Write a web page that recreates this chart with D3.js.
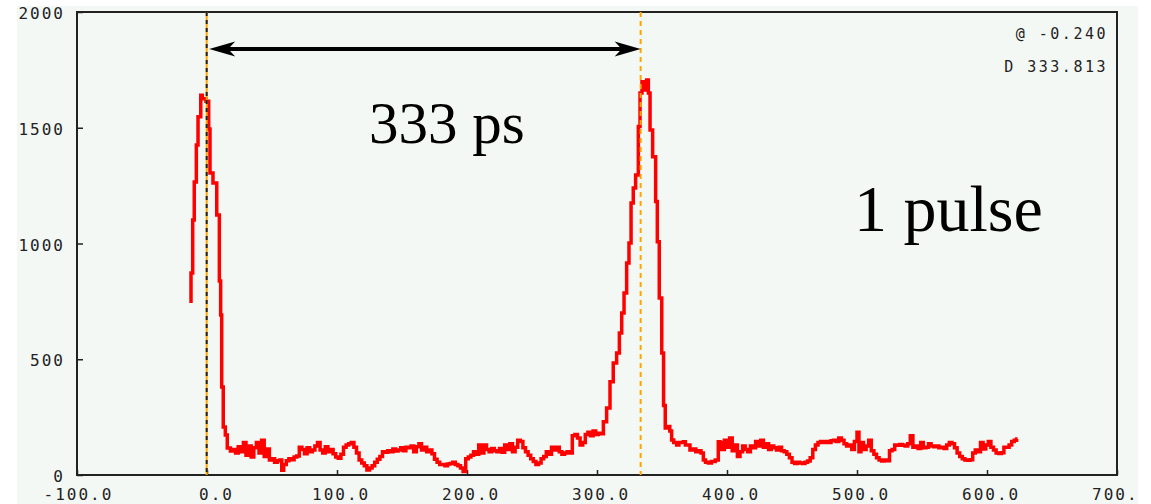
<!DOCTYPE html>
<html>
<head>
<meta charset="utf-8">
<script src="https://d3js.org/d3.v7.min.js"></script>
<style>
  body { margin: 0; background: #fff; }
</style>
</head>
<body>
<div id="my_dataviz"></div>
<script>
// trace: time (ps) and counts
var times = [
  -12.3, -12.3, -11, -9.8, -8.2, -6.9, -4.8, -3.6, -0.8, 1.3, 2.3, 4.6, 7.5, 9.5, 10.5, 11.3, 12.5, 14.1, 15.6,
  18, 20, 22, 24, 26, 28, 30, 32, 34, 36, 38, 40, 42, 44, 46, 48, 50, 52, 54, 56, 57.5, 59,
  61, 63, 65, 67, 69, 71, 73, 75, 77, 79, 81, 83, 85, 87, 89, 91, 93, 95, 97, 99,
  101, 103, 105, 107, 109, 111, 113, 115, 117, 119, 121, 123, 125, 127, 129, 131, 133, 135, 137, 139,
  141, 143, 145, 147, 149, 151, 153, 155, 157, 159, 161, 163, 165, 167, 169, 171, 173, 175, 177, 179,
  181, 183, 185, 187, 189, 191, 193, 195, 197, 199, 201, 203, 205, 207, 209, 211, 213, 215, 217, 219,
  221, 223, 225, 227, 229, 231, 233, 235, 237, 239, 241, 243, 245, 247, 249, 251, 253, 255, 257, 259,
  261, 263, 265, 267, 269, 271, 273, 275, 277, 279, 281, 283, 285, 287, 289, 291, 293, 295, 297, 299,
  301, 303, 304.9, 307.4, 310, 312.5, 315.1, 317.2, 319, 320.8, 322.8, 324.6, 326.2, 327.9, 329.7,
  331.8, 333.1, 334.6, 336.4, 338.2, 339.5, 340.8, 342.8, 345.1, 346.4, 347.9, 349.8, 351.2, 352.5,
  354, 356, 357.4, 359, 361.3, 363, 366.4, 368, 371.5, 374, 376, 378, 380, 381.8, 383.5, 385.6, 388, 391, 393.3,
  394.6, 396, 398, 400, 402, 404, 406, 408, 410, 412, 414, 416, 418, 420, 422, 424, 426, 428, 430,
  432, 434, 436, 438, 440, 442, 444, 446, 448, 450, 452, 454, 456, 458, 460, 462, 464, 466, 468, 470,
  472, 474, 476, 478, 480, 482, 484, 486, 488, 490, 492, 494, 496, 498, 500, 501.5, 503, 505, 507, 509,
  511, 513, 515, 517, 519, 521, 523, 525, 527, 529, 531, 533, 535, 537, 539, 541, 543, 545, 547, 549,
  551, 553, 555, 557, 559, 561, 563, 565, 567, 569, 571, 573, 575, 577, 579, 581, 583, 585, 587, 589,
  591, 593, 595, 597, 599, 601, 603, 605, 607, 609, 611, 613, 615, 617, 619, 621, 622.8
];
var counts = [
  743, 873, 1102, 1266, 1426, 1547, 1640, 1625, 1615, 1495, 1305, 1261, 1123, 838, 691, 380, 207, 173, 117,
  104, 110, 95, 122, 100, 140, 85, 125, 78, 118, 140, 95, 150, 80, 112, 65, 70, 55, 62, 65, 20, 45,
  62, 70, 66, 78, 82, 120, 110, 92, 118, 100, 108, 125, 140, 108, 95, 122, 100, 110, 92, 78,
  72, 90, 120, 130, 135, 140, 120, 95, 65, 52, 40, 22, 30, 40, 55, 68, 80, 100, 98, 105,
  100, 112, 104, 108, 118, 105, 120, 118, 125, 100, 122, 135, 108, 120, 100, 108, 92, 68, 55, 45,
  45, 40, 48, 50, 55, 45, 40, 30, 15, 70, 78, 85, 100, 90, 130, 95, 130, 110, 100, 115,
  105, 100, 115, 98, 130, 110, 135, 100, 120, 150, 145, 118, 100, 85, 70, 58, 45, 52, 70, 80,
  100, 90, 120, 108, 120, 100, 90, 95, 100, 95, 170, 175, 160, 130, 140, 175, 185, 170, 190, 175,
  180, 178, 230, 289, 403, 484, 527, 613, 700, 786, 916, 1002, 1175, 1240, 1296,
  1505, 1650, 1699, 1663, 1706, 1650, 1490, 1375, 1181, 1008, 765, 527, 300, 203,
  210, 190, 151, 140, 130, 140, 144, 130, 108, 112, 100, 105, 95, 65, 55, 52, 58, 65, 144,
  140, 110, 150, 120, 160, 105, 130, 80, 100, 125, 110, 100, 125, 118, 145, 125, 150, 120, 135,
  110, 125, 118, 108, 120, 105, 100, 90, 75, 55, 50, 55, 52, 50, 55, 60, 75, 110, 130, 140,
  145, 140, 145, 140, 148, 150, 145, 160, 150, 135, 125, 130, 110, 145, 185, 100, 140, 110, 125, 150,
  105, 90, 75, 65, 60, 65, 62, 105, 110, 130, 128, 132, 128, 125, 135, 170, 120, 125, 115, 140,
  118, 120, 135, 125, 122, 125, 118, 120, 115, 130, 140, 135, 118, 95, 80, 70, 65, 64, 66, 95,
  108, 100, 140, 112, 130, 145, 120, 108, 95, 93, 96, 120, 120, 130, 145, 150, 155
];
var xTicks = [-100, 0, 100, 200, 300, 400, 500, 600, 700];
var yTicks = [0, 500, 1000, 1500, 2000];
var cursorAt = -0.240;     // "@" readout
var cursorDelta = 333.813; // "D" readout

var width = 1151, height = 504;
var plot = {left: 77, right: 1117, top: 12, bottom: 475};
var pixFont = "'DejaVu Sans Mono', monospace";

var svg = d3.select("#my_dataviz")
  .append("svg")
    .attr("width", width)
    .attr("height", height)
    .style("display", "block");

svg.append("clipPath").attr("id", "panel")
  .append("rect").attr("x", 17).attr("y", 6).attr("width", 1121).attr("height", 498);

var g = svg.append("g").attr("clip-path", "url(#panel)");

// panel background
g.append("rect")
  .attr("x", 17).attr("y", 6)
  .attr("width", 1121).attr("height", 498)
  .attr("fill", "#f4f8f5");

var x = d3.scaleLinear().domain([-100, 700]).range([plot.left, plot.right]);
var y = d3.scaleLinear().domain([0, 2000]).range([plot.bottom, plot.top]);

// x axis, ticks point inward
var xAxis = g.append("g")
  .attr("transform", "translate(0," + plot.bottom + ")")
  .call(d3.axisBottom(x).tickValues(xTicks).tickSize(-5).tickFormat(function(d) { return d.toFixed(1); }));
xAxis.select(".domain").remove();
xAxis.selectAll("line").attr("stroke", "#222").attr("stroke-width", 1.5);
xAxis.selectAll("text")
  .attr("text-anchor", "start")
  .attr("x", function(d) { return -8.5 * String(Math.trunc(d)).length; })
  .attr("y", 25).attr("dy", 0)
  .style("font-family", pixFont).style("font-size", "16px")
  .style("letter-spacing", "2px").attr("fill", "#222");

// y axis
var yAxis = g.append("g")
  .attr("transform", "translate(" + plot.left + ",0)")
  .call(d3.axisLeft(y).tickValues(yTicks).tickSize(-6).tickFormat(d3.format("d")));
yAxis.select(".domain").remove();
yAxis.selectAll("line").attr("stroke", "#222").attr("stroke-width", 1.5);
yAxis.selectAll("text")
  .attr("x", -12).attr("y", 1.5).attr("dy", "0.32em")
  .style("font-family", pixFont).style("font-size", "16px")
  .style("letter-spacing", "2px").attr("fill", "#222");

// frame
g.append("rect")
  .attr("x", plot.left).attr("y", plot.top)
  .attr("width", plot.right - plot.left).attr("height", plot.bottom - plot.top)
  .attr("fill", "none").attr("stroke", "#222").attr("stroke-width", 2);

// cursor readout
g.append("text")
  .attr("x", 1108).attr("y", 38.5).attr("text-anchor", "end")
  .style("font-family", pixFont).style("font-size", "15px").style("letter-spacing", "2.5px")
  .attr("fill", "#222")
  .text("@ " + cursorAt.toFixed(3));
g.append("text")
  .attr("x", 1108).attr("y", 71.5).attr("text-anchor", "end")
  .style("font-family", pixFont).style("font-size", "15px").style("letter-spacing", "2.5px")
  .attr("fill", "#222")
  .text("D " + cursorDelta.toFixed(3));

// the trace
var trace = times.map(function(t, i) { return [t, counts[i]]; });
trace.push([623.5, counts[counts.length - 1]]);
var line = d3.line()
  .x(function(d) { return x(d[0]); })
  .y(function(d) { return y(d[1]); })
  .curve(d3.curveStepAfter);
g.append("path")
  .datum(trace)
  .attr("d", line)
  .attr("fill", "none")
  .attr("stroke", "#ff0000")
  .attr("stroke-width", 3.5);

// cursor lines
var x0 = x(cursorAt), x1 = x(cursorAt + cursorDelta);
g.append("line")
  .attr("x1", x0).attr("x2", x0).attr("y1", plot.top).attr("y2", plot.bottom)
  .attr("stroke", "#ffa500").attr("stroke-width", 2);
g.append("line")
  .attr("x1", x0).attr("x2", x0).attr("y1", plot.top).attr("y2", plot.bottom)
  .attr("stroke", "#222").attr("stroke-width", 2).attr("stroke-dasharray", "4,4");
g.append("line")
  .attr("x1", x1).attr("x2", x1).attr("y1", plot.top).attr("y2", plot.bottom)
  .attr("stroke", "#ffa500").attr("stroke-width", 2).attr("stroke-dasharray", "5,4");

// double arrow between cursors
var ay = y(1840);
var ax0 = x0 + 2.5, ax1 = x1;
g.append("line")
  .attr("x1", ax0 + 15).attr("x2", ax1 - 15).attr("y1", ay).attr("y2", ay)
  .attr("stroke", "#000").attr("stroke-width", 4);
var head = "M0,0 L-26,-7.5 L-19,0 L-26,7.5 Z";
g.append("path").attr("d", head).attr("fill", "#000")
  .attr("transform", "translate(" + ax1 + "," + ay + ")");
g.append("path").attr("d", head).attr("fill", "#000")
  .attr("transform", "translate(" + ax0 + "," + ay + ") rotate(180)");

// annotations
g.append("text")
  .attr("x", 369).attr("y", 143)
  .style("font-family", "'Liberation Serif', 'Times New Roman', serif")
  .style("font-size", "59px").attr("fill", "#000")
  .text("333 ps");
g.append("text")
  .attr("x", 854).attr("y", 231)
  .style("font-family", "'Liberation Serif', 'Times New Roman', serif")
  .style("font-size", "66px").attr("fill", "#000")
  .text("1 pulse");
</script>
</body>
</html>
